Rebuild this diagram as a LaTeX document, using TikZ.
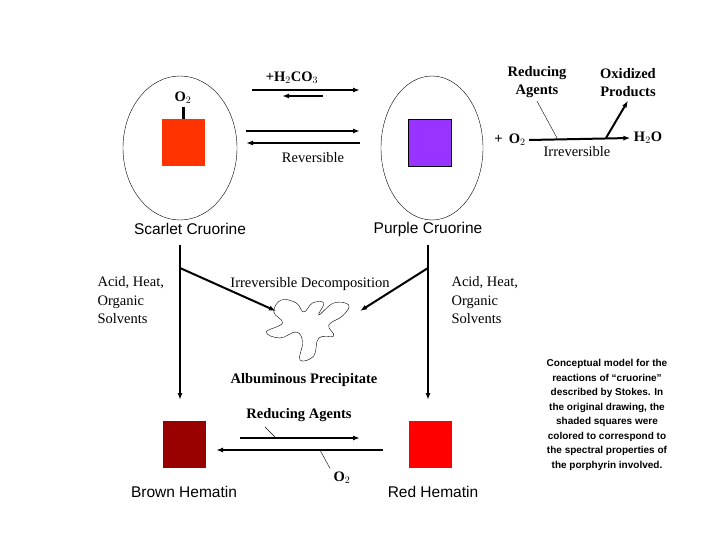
\documentclass[tikz,border=0pt]{standalone}
\usepackage{fontspec}
\setmainfont{Liberation Serif}
\newfontfamily\arialf{Liberation Sans}
\usetikzlibrary{arrows.meta}
\definecolor{scarlet}{HTML}{FF3300}
\definecolor{purplec}{HTML}{9933FF}
\definecolor{brownh}{HTML}{990000}
\definecolor{redh}{HTML}{FF0000}
\begin{document}
\begin{tikzpicture}[x=1pt,y=-1pt,
  arr/.style={line width=2pt,-{Latex[length=7pt,width=5pt]}},
  serif/.style={font=\fontsize{14.5}{18.5}\selectfont},
  bserif/.style={font=\bfseries\fontsize{14.5}{18}\selectfont},
  sans/.style={font=\arialf\fontsize{15.5}{18}\selectfont},
  sq/.style={minimum width=43pt,minimum height=47pt,inner sep=0pt}]
\useasboundingbox (0,0) rectangle (720,540);
%cells
\draw (180,148) ellipse [x radius=57pt,y radius=72pt];
\draw (432,148) ellipse [x radius=51pt,y radius=72pt];
\node[sq,fill=scarlet] (scarlet) at (183,143) {};
\node[sq,fill=purplec,draw=black,thin] (purple) at (430,143) {};
\node[bserif] (otop) at (183,98) {O$_2$};
\draw[line width=3pt] (otop.south) -- (scarlet.north);
%reversible arrows
\node[bserif] (hco) at (292,78) {+H$_2$CO$_3$};
\coordinate (a1) at (252,90); \coordinate (a2) at (360,90);
\coordinate (b1) at (323,96); \coordinate (b2) at (282,96);
\draw[arr] (a1) -- (a2);
\draw[arr] (b1) -- (b2);
\coordinate (c1) at (246,131); \coordinate (c2) at (360,131);
\coordinate (d1) at (360,143); \coordinate (d2) at (246,143);
\draw[arr] (c1) -- (c2);
\draw[arr] (d1) -- (d2);
\node[serif] (rev) at (313,158) {Reversible};
%irreversible oxidation
\node[bserif] (pluso) at (510,140) {+ \,O$_2$};
\node[bserif] (water) at (648,138) {H$_2$O};
\node[bserif,align=center] (redag) at (537,82) {Reducing\\Agents};
\node[bserif,align=center] (oxprod) at (628,83) {Oxidized\\Products};
\node[serif] (irr) at (577,152) {Irreversible};
\coordinate (br) at (606,138); \coordinate (rtick) at (557,138);
\draw[arr] (pluso.east) -- (water.west);
\draw[arr] (br) -- (oxprod.south);
\draw (redag.south) -- (rtick);
%names
\node[sans] (scname) at (190,229) {Scarlet Cruorine};
\node[sans] (puname) at (428,229) {Purple Cruorine};
%decomposition
\coordinate (l1) at (180,245); \coordinate (l2) at (180,400);
\coordinate (r1) at (428,245); \coordinate (r2) at (428,400);
\coordinate (l3) at (180,268); \coordinate (r3) at (428,268);
\draw[arr] (l1) -- (l2);
\draw[arr] (r1) -- (r2);
\node[serif,align=left,anchor=north west] (acl) at (94,273) {Acid, Heat,\\Organic\\Solvents};
\node[serif,align=left,anchor=north west] (acr) at (448,273) {Acid, Heat,\\Organic\\Solvents};
\node[serif] (irrdec) at (310,284) {Irreversible Decomposition};
\coordinate (bl) at (276,311); \coordinate (bright) at (360,311);
\draw[arr] (l3) -- (bl);
\draw[arr] (r3) -- (bright);
\draw[thin,xshift=-78.75pt,xscale=1.25] plot[smooth cycle,tension=0.7] coordinates {
 (288,300) (300,303) (306,312) (313,303) (322,303) (318,315)
 (330,303) (342,305) (337,316) (326,325) (330,336) (318,338)
 (314,356) (303,360) (305,342) (300,332) (287,338) (276,332)
 (289,323) (282,312)};
\node[bserif] (alb) at (304,380) {Albuminous Precipitate};
%hematins
\node[sq,fill=brownh] (brown) at (184,444) {};
\node[sq,fill=redh] (redhem) at (430,444) {};
\node[bserif] (redag2) at (299,415) {Reducing Agents};
\coordinate (e1) at (240,438); \coordinate (e2) at (360,438);
\coordinate (f1) at (383,450); \coordinate (f2) at (216,450);
\draw[arr] (e1) -- (e2);
\draw[arr] (f1) -- (f2);
\coordinate (g1) at (265,427); \coordinate (g2) at (276,438);
\draw (g1) -- (g2);
\node[bserif] (o2b) at (342,478) {O$_2$};
\coordinate (h1) at (320,450);
\draw (h1) -- (o2b.north west);
\node[sans] (bhname) at (184,492) {Brown Hematin};
\node[sans] (rhname) at (433,492) {Red Hematin};
%caption
\node[font=\arialf\bfseries\fontsize{10}{14.5}\selectfont,align=center] (capt) at (607,415)
 {Conceptual model for the\\reactions of “cruorine”\\described by Stokes. In\\the original drawing, the\\shaded squares were\\colored to correspond to\\the spectral properties of\\the porphyrin involved.};
\end{tikzpicture}
\end{document}
